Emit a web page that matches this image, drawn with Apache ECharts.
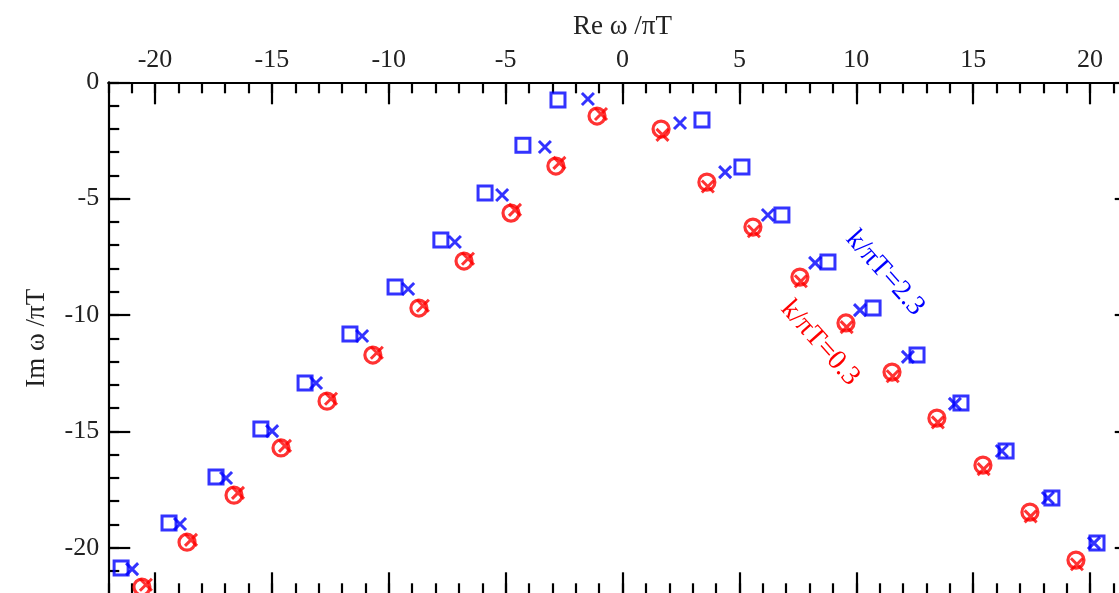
<!DOCTYPE html>
<html><head><meta charset="utf-8">
<script src="https://cdn.jsdelivr.net/npm/echarts@6/dist/echarts.min.js"></script>
<style>html,body{margin:0;padding:0;background:#fff;overflow:hidden}#c{width:1119px;height:593px}</style>
</head><body><div id="c"></div>
<script>
// ---- data (Re ω/πT, Im ω/πT) ----
const xMajorTicks = [-20, -15, -10, -5, 0, 5, 10, 15, 20];
const yMajorTicks = [0, -5, -10, -15, -20];
const xTitle = 'Re ω /πT';
const yTitle = 'Im ω /πT';
const blueLabel = 'k/πT=2.3';
const redLabel = 'k/πT=0.3';

const blueSquares = [
  [-2.76,-0.76],[-4.26,-2.70],[-5.88,-4.76],[-7.77,-6.78],[-9.73,-8.80],[-11.66,-10.82],
  [-13.58,-12.92],[-15.47,-14.90],[-17.39,-16.96],[-19.40,-18.94],[-21.45,-20.87],
  [3.40,-1.62],[5.11,-3.64],[6.82,-5.70],[8.79,-7.72],[10.72,-9.70],[12.60,-11.72],
  [14.48,-13.78],[16.41,-15.84],[18.37,-17.86],[20.30,-19.80]
];
const blueCrosses = [
  [-1.48,-0.72],[-3.32,-2.78],[-5.15,-4.84],[-7.17,-6.86],[-9.17,-8.88],[-11.14,-10.90],
  [-13.11,-12.92],[-14.99,-14.99],[-16.96,-17.00],[-18.93,-18.98],[-20.98,-20.92],
  [2.46,-1.75],[4.39,-3.86],[6.22,-5.70],[8.24,-7.76],[10.16,-9.79],[12.21,-11.80],
  [14.22,-13.82],[16.23,-15.84],[18.20,-17.86],[20.17,-19.80]
];
const redCircles = [
  [-1.09,-1.45],[-2.85,-3.60],[-4.77,-5.62],[-6.78,-7.68],[-8.71,-9.70],[-10.68,-11.72],
  [-12.64,-13.70],[-14.61,-15.71],[-16.62,-17.74],[-18.63,-19.76],[-20.56,-21.69],
  [1.65,-2.01],[3.61,-4.29],[5.58,-6.22],[7.59,-8.37],[9.56,-10.34],[11.53,-12.45],
  [13.45,-14.43],[15.42,-16.45],[17.43,-18.47],[19.40,-20.53]
];
const redCrosses = [
  [-0.92,-1.36],[-2.70,-3.46],[-4.60,-5.48],[-6.61,-7.58],[-8.54,-9.60],[-10.51,-11.62],
  [-12.47,-13.60],[-14.44,-15.62],[-16.45,-17.64],[-18.46,-19.66],[-20.39,-21.59],
  [1.71,-2.26],[3.65,-4.48],[5.62,-6.40],[7.63,-8.55],[9.59,-10.52],[11.56,-12.63],
  [13.49,-14.61],[15.45,-16.62],[17.46,-18.65],[19.44,-20.71]
];

// ---- chart ----
const FONT = '"Liberation Serif","DejaVu Serif",serif';
const BLUE = '#0000ff', RED = '#ff0000';
const lineSt = {color: '#000', width: 2.2};
const X_MIN = -22, X_MAX = 22, Y_MIN = -22, Y_MAX = 0;

function xAxisPair(pos, withLabels) {
  const major = {
    type: 'value', position: pos, min: X_MIN, max: X_MAX, interval: 1,
    axisLine: {show: true, onZero: false, lineStyle: lineSt},
    axisTick: {show: true, inside: true, length: 22, customValues: xMajorTicks, lineStyle: lineSt},
    axisLabel: withLabels ? {show: true, customValues: xMajorTicks, fontFamily: FONT, fontSize: 26, color: '#222', margin: 9}
                          : {show: false},
    splitLine: {show: false}
  };
  if (withLabels) {
    major.name = xTitle; major.nameLocation = 'middle'; major.nameGap = 42;
    major.nameTextStyle = {fontFamily: FONT, fontSize: 27, color: '#222'};
  }
  const minor = {
    type: 'value', position: pos, min: X_MIN, max: X_MAX, interval: 1,
    axisLine: {show: false, onZero: false},
    axisTick: {show: true, inside: true, length: 11, lineStyle: lineSt},
    axisLabel: {show: false}, splitLine: {show: false}
  };
  return [major, minor];
}
function yAxisPair(pos, withLabels) {
  const major = {
    type: 'value', position: pos, min: Y_MIN, max: Y_MAX, interval: 1,
    axisLine: {show: true, onZero: false, lineStyle: lineSt},
    axisTick: {show: true, inside: true, length: 22, customValues: yMajorTicks, lineStyle: lineSt},
    axisLabel: withLabels ? {show: true, customValues: yMajorTicks, fontFamily: FONT, fontSize: 26, color: '#222', margin: 9}
                          : {show: false},
    splitLine: {show: false}
  };
  if (withLabels) {
    major.name = yTitle; major.nameLocation = 'middle'; major.nameGap = 58;
    major.nameTextStyle = {fontFamily: FONT, fontSize: 27, color: '#222'};
  }
  const minor = {
    type: 'value', position: pos, min: Y_MIN, max: Y_MAX, interval: 1,
    axisLine: {show: false, onZero: false},
    axisTick: {show: true, inside: true, length: 11, lineStyle: lineSt},
    axisLabel: {show: false}, splitLine: {show: false}
  };
  return [major, minor];
}

const CROSS = 'path://M0,0L10,10M10,0L0,10';
const chart = echarts.init(document.getElementById('c'), null, {renderer: 'canvas'});
chart.setOption({
  animation: false,
  backgroundColor: '#fff',
  grid: {left: 108.25, top: 82.3, width: 1028.5, height: 512, containLabel: false, outerBoundsMode: 'none'},
  xAxis: [...xAxisPair('top', true), ...xAxisPair('bottom', false)],
  yAxis: [...yAxisPair('left', true), ...yAxisPair('right', false)],
  series: [
    {type: 'scatter', name: 'blueSq', data: blueSquares, symbol: 'rect', symbolSize: 14,
     itemStyle: {color: 'rgba(0,0,0,0)', borderColor: BLUE, borderWidth: 3}},
    {type: 'scatter', name: 'blueX', data: blueCrosses, symbol: CROSS, symbolSize: 12,
     itemStyle: {color: 'rgba(0,0,0,0)', borderColor: BLUE, borderWidth: 3}},
    {type: 'scatter', name: 'redO', data: redCircles, symbol: 'circle', symbolSize: 16,
     itemStyle: {color: 'rgba(0,0,0,0)', borderColor: RED, borderWidth: 3.2}},
    {type: 'scatter', name: 'redX', data: redCrosses, symbol: CROSS, symbolSize: 12,
     itemStyle: {color: 'rgba(0,0,0,0)', borderColor: RED, borderWidth: 3}}
  ],
  graphic: [
    {type: 'text', x: 885, y: 273, rotation: -0.84,
     style: {text: blueLabel, fill: BLUE, font: '28px "Liberation Serif"', align: 'center', verticalAlign: 'middle'}},
    {type: 'text', x: 820, y: 343, rotation: -0.84,
     style: {text: redLabel, fill: RED, font: '28px "Liberation Serif"', align: 'center', verticalAlign: 'middle'}}
  ]
});
</script></body></html>
